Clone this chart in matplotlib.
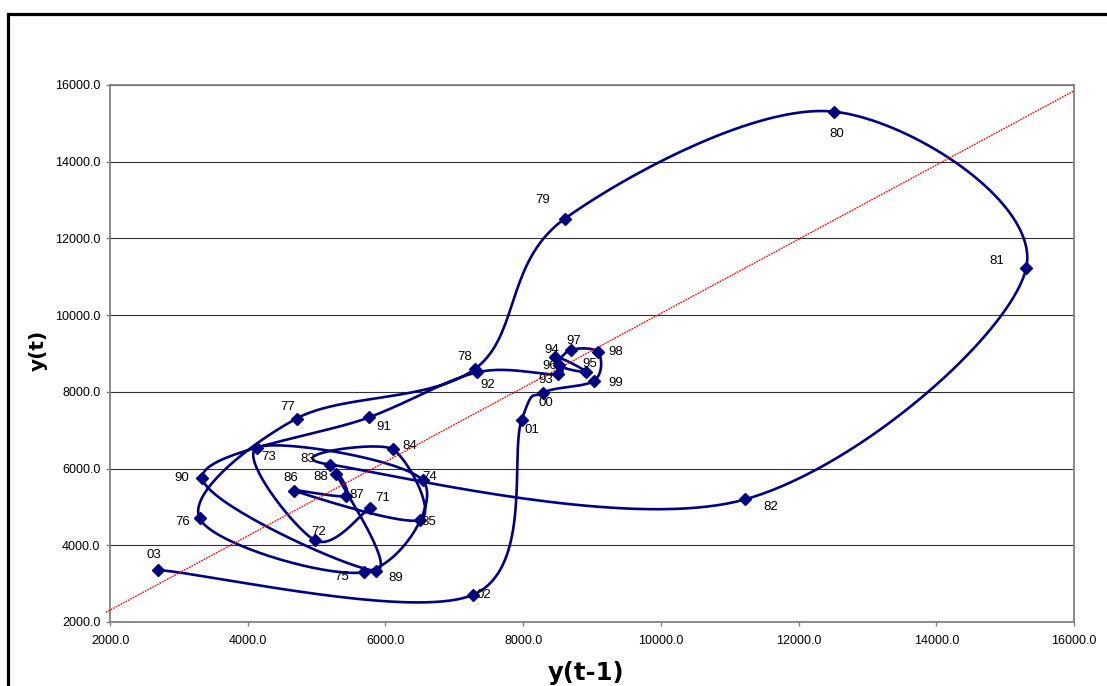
import numpy as np
import matplotlib
matplotlib.use("Agg")
import matplotlib.pyplot as plt
from matplotlib.lines import Line2D

# ---- data -------------------------------------------------------------
years = list(range(1970, 2004))
values = [5776, 4975, 4130, 6540, 5695, 3300, 4710, 7305, 8605, 12515,
          15305, 11220, 5195, 6105, 6505, 4665, 5428, 5288, 5858, 3340,
          5766, 7337, 8510, 8465, 8917, 8525, 8691, 9091, 9031, 8291,
          7978, 7266, 2704, 3356]
point_labels = [f"{y % 100:02d}" for y in years[1:]]
x_lag = values[:-1]      # y(t-1)
y_now = values[1:]       # y(t)

ref_slope = 0.967        # red reference line
ref_intercept = 375.0
ref_x_range = [1940, 16000]

axis_min, axis_max = 2000, 16000
ticks = list(range(2000, 16001, 2000))

# label offsets in pixels (dx, dy ; dy positive = up)
label_offsets = {
    "71": (13, 10), "72": (4, 8), "73": (12, -9), "74": (7, 3),
    "75": (-23, -5), "76": (-17, -4), "77": (-9, 12), "78": (-11, 12),
    "79": (-22, 19), "80": (3, -22), "81": (-29, 7), "82": (26, -8),
    "83": (-22, 6), "84": (17, 3), "85": (9, -2), "86": (-3, 13),
    "87": (11, 1), "88": (-16, -3), "89": (20, -7), "90": (-21, 0),
    "91": (14, -10), "92": (10, -13), "93": (-13, -6), "94": (-3, 7),
    "95": (3, 8), "96": (-10, -1), "97": (3, 9), "98": (17, 0),
    "99": (22, -2), "00": (3, -10), "01": (10, -10), "02": (11, 0),
    "03": (-5, 15),
}

# ---- figure ------------------------------------------------------------
W_PX, H_PX = 1107, 686
fig = plt.figure(figsize=(W_PX / 100, H_PX / 100), dpi=100)
ax_l, ax_r, ax_t, ax_b = 110, 1074, 85, 622
ax = fig.add_axes([ax_l / W_PX, 1 - ax_b / H_PX,
                   (ax_r - ax_l) / W_PX, (ax_b - ax_t) / H_PX])
ax.set_xlim(axis_min, axis_max)
ax.set_ylim(axis_min, axis_max)

# smoothed curve (Excel-like Catmull-Rom Bezier in pixel space)
def smooth(xs, ys, n=40):
    W, H = ax_r - ax_l, ax_b - ax_t
    span = axis_max - axis_min
    u = (np.asarray(xs, float) - axis_min) / span * W
    v = (np.asarray(ys, float) - axis_min) / span * H
    P = np.column_stack([u, v])
    Pe = np.vstack([P[0], P, P[-1]])
    t = np.linspace(0, 1, n)[:, None]
    out = []
    for i in range(len(P) - 1):
        p0, p1, p2, p3 = Pe[i], Pe[i + 1], Pe[i + 2], Pe[i + 3]
        c1 = p1 + (p2 - p0) / 6.0
        c2 = p2 - (p3 - p1) / 6.0
        seg = ((1 - t) ** 3) * p1 + 3 * (1 - t) ** 2 * t * c1 \
            + 3 * (1 - t) * t ** 2 * c2 + t ** 3 * p2
        out.append(seg if i == 0 else seg[1:])
    out = np.vstack(out)
    return out[:, 0] / W * span + axis_min, out[:, 1] / H * span + axis_min

sx, sy = smooth(x_lag, y_now)
navy = "#000080"
ax.plot(sx, sy, color=navy, lw=1.9, zorder=3, solid_capstyle="round")
ax.plot(x_lag, y_now, linestyle="none", marker="D", markersize=6.3,
        color=navy, zorder=5)

# red reference line
rx = np.array(ref_x_range, float)
ax.plot(rx, ref_slope * rx + ref_intercept, color="#ff0000", lw=1.0,
        linestyle=(0, (1.2, 0.8)), zorder=4, clip_on=False)

for xv, yv, lab in zip(x_lag, y_now, point_labels):
    dx, dy = label_offsets[lab]
    ax.annotate(lab, (xv, yv), xytext=(dx, dy), textcoords="offset pixels",
                ha="center", va="center", fontsize=9.5,
                family="Liberation Sans", color="black", zorder=6)

# axes styling
ax.set_xticks(ticks)
ax.set_yticks(ticks)
ax.set_xticklabels([f"{t:.1f}" for t in ticks])
ax.set_yticklabels([f"{t:.1f}" for t in ticks])
for lab in ax.get_xticklabels() + ax.get_yticklabels():
    lab.set_family("Liberation Sans")
    lab.set_fontsize(9)
ax.tick_params(axis="both", direction="out", length=3, width=1,
               color="#808080", pad=4)
ax.tick_params(axis="x", pad=6)
ax.yaxis.grid(True, color="#303030", lw=0.8)
ax.set_axisbelow(True)
for sp in ax.spines.values():
    sp.set_color("#808080")
    sp.set_linewidth(1.3)

fig.text(586 / W_PX, 1 - 673 / H_PX, "y(t-1)", ha="center", va="center",
         fontsize=17.5, fontweight="bold", family="DejaVu Sans")
fig.text(38 / W_PX, 1 - 350 / H_PX, "y(t)", ha="center", va="center",
         rotation=90, fontsize=14.5, fontweight="bold", family="DejaVu Sans")

# chart-area border (top and left visible)
fig.add_artist(Line2D([8 / W_PX, 1.0], [1 - 14 / H_PX, 1 - 14 / H_PX],
                      transform=fig.transFigure, color="black", lw=2.3))
fig.add_artist(Line2D([8 / W_PX, 8 / W_PX], [0.0, 1 - 14 / H_PX],
                      transform=fig.transFigure, color="black", lw=2.3))

fig.savefig("out.png", dpi=100)
